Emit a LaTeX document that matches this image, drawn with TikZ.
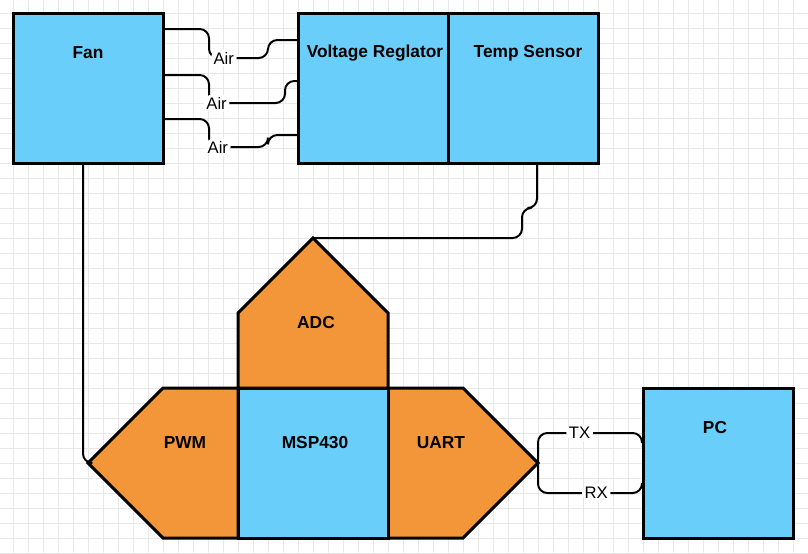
\documentclass[tikz,border=0pt]{standalone}
\usepackage{fontspec}
\setmainfont{Liberation Sans}
\usetikzlibrary{positioning}
\definecolor{boxblue}{RGB}{106,206,250}
\definecolor{partorange}{RGB}{243,150,57}
\definecolor{gridgray}{RGB}{232,232,232}

\begin{document}
\begin{tikzpicture}[x=0.75pt,y=-0.75pt,line join=miter,
	                    rounded corners=7pt, inner sep=0pt]
	  \tikzstyle{box}=[rectangle,draw=black,fill=boxblue,line width=2.25pt,sharp corners,
	                   minimum width=112.5pt,minimum height=112.5pt,outer sep=0pt]
	  \tikzstyle{part}=[draw=black,fill=partorange,line width=2.25pt,sharp corners]
	  \tikzstyle{title}=[font=\bfseries\fontsize{13}{15}\selectfont]
	  \tikzstyle{wire}=[draw=black,line width=1.5pt]
	  \tikzstyle{tag}=[fill=white,inner sep=2pt,font=\fontsize{12.5}{14}\selectfont]

	  \useasboundingbox[fill=white] (0,0) rectangle (808,554);
	  \foreach \gx in {0,...,52}
	    \draw[gridgray,line width=0.75pt,sharp corners] (13.3+15*\gx,0) -- (13.3+15*\gx,554);
	  \foreach \gy in {0,...,36}
	    \draw[gridgray,line width=0.75pt,sharp corners] (0,13.3+15*\gy) -- (808,13.3+15*\gy);

	  \node[box]	(fan) 	at (88,88) 		{};
	  \node[box]	(reg) 	at (373,88) 	{};
	  \node[box]	(temp)	[right=0pt of reg]	{};
	  \node[box]	(msp) 	at (313,463) 	{};
	  \node[box]	(pc) 	at (718,463) 	{};

	  \filldraw[part] (msp.north west) -- ++(0,-75) -- ++(75,-75) coordinate (adctop)
	  		-- ++(75,75) -- (msp.north east) -- cycle;
	  \filldraw[part] (msp.north west) -- ++(-75,0) -- ++(-75,75) coordinate (pwmtip)
	  		-- ++(75,75) -- (msp.south west) -- cycle;
	  \filldraw[part] (msp.north east) -- ++(75,0) -- ++(75,75) coordinate (uarttip)
	  		-- ++(-75,75) -- (msp.south east) -- cycle;
	  \node[box] 	at (msp) 	{};

	  \node[title]	(fanname) 	at (88,53) 		{Fan};
	  \node[title]	(regname) 	at (375,53) 	{Voltage Reglator};
	  \node[title]	(tempname)	at (528,53) 	{Temp Sensor};
	  \node[title]	(adcname) 	at (316,323) 	{ADC};
	  \node[title]	(pwmname) 	at (185,443) 	{PWM};
	  \node[title]	(mspname) 	at (315,443) 	{MSP430};
	  \node[title]	(uartname)	at (441,443) 	{UART};
	  \node[title]	(pcname)  	at (715,428) 	{PC};

	  \draw[wire] ([xshift=-3.75pt]fan.south) |- (pwmtip);
	  \draw[wire] ([xshift=10.5pt]temp.south) -- ++(0,45) -- ++(-15,0) |- (adctop);

	  \draw[wire] (fan.east) ++(0,-59) -- ++(46,0) -- ++(0,29)
	  		-- node[tag,pos=0.25] {Air} ++(59,0) |- ([yshift=36pt]reg.west);
	  \draw[wire] (fan.east) ++(0,-13) -- ++(46,0) -- ++(0,28)
	  		-- node[tag,pos=0.1] {Air} ++(76,0) |- ([yshift=5.25pt]reg.west);
	  \draw[wire] (fan.east) ++(0,31) -- ++(46,0) -- ++(0,28)
	  		-- node[tag,pos=0.15] {Air} ++(59,0) |- ([yshift=-35.25pt]reg.west);

	  \draw[wire] (uarttip) -- ++(0,-30)
	  		-- node[tag,pos=0.4] {TX} ++(104,0) -- ([xshift=-0.75pt,yshift=15pt]pc.west);
	  \draw[wire] (uarttip) -- ++(0,30)
	  		-- node[tag,pos=0.56] {RX} ++(104,0) -- ([xshift=-0.75pt,yshift=-15pt]pc.west);
	\end{tikzpicture}
\end{document}
